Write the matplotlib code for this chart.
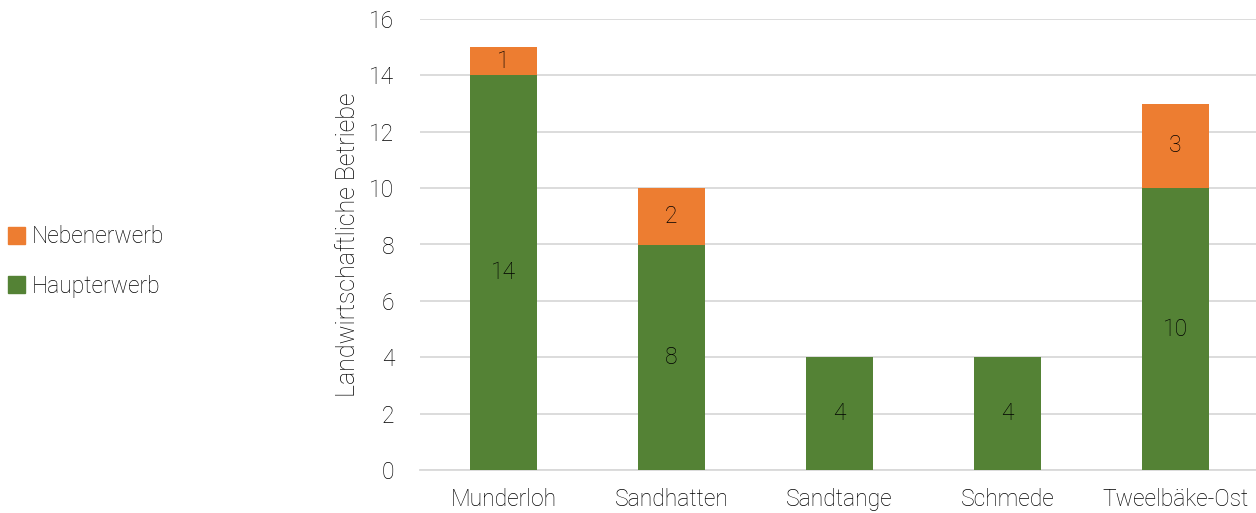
import matplotlib.pyplot as plt
from matplotlib.patches import Patch

orte = ["Munderloh", "Sandhatten", "Sandtange", "Schmede", "Tweelbäke-Ost"]
haupterwerb = [14, 8, 4, 4, 10]
nebenerwerb = [1, 2, 0, 0, 3]
y_ticks = [0, 2, 4, 6, 8, 10, 12, 14, 16]

GREEN = "#548235"
ORANGE = "#ED7D31"
TEXT = "#000000"
FS = 16.5

plt.rcParams['font.family'] = ['Roboto', 'DejaVu Sans']
plt.rcParams['font.weight'] = 'light'
plt.rcParams['axes.labelweight'] = 'light'

W, H = 1256, 513
fig = plt.figure(figsize=(W / 100, H / 100), dpi=100)
ax = fig.add_axes([419.5 / W, 43 / H, 840 / W, 451 / H])

x = list(range(len(orte)))
ax.bar(x, haupterwerb, width=0.4, color=GREEN, zorder=3)
ax.bar(x, nebenerwerb, width=0.4, bottom=haupterwerb, color=ORANGE, zorder=3)

for i in x:
    h = haupterwerb[i]
    n = nebenerwerb[i]
    if h:
        ax.text(i, h / 2, str(h), ha="center", va="center", fontsize=FS,
                color=TEXT, fontweight="light", zorder=4)
    if n:
        ax.text(i, h + n / 2, str(n), ha="center", va="center", fontsize=FS,
                color=TEXT, fontweight="light", zorder=4)

ax.set_xlim(-0.5, len(orte) - 0.5)
ax.set_ylim(0, 16)
ax.set_yticks(y_ticks)
ax.set_xticks(x)
ax.set_xticklabels(orte)
ax.tick_params(axis="both", length=0, labelsize=FS, labelcolor=TEXT)
ax.tick_params(axis="x", pad=13)
ax.tick_params(axis="y", pad=18)
ax.yaxis.grid(True, color="#D9D9D9", linewidth=1.3, zorder=0)
for s in ["top", "right", "left"]:
    ax.spines[s].set_visible(False)
ax.spines["bottom"].set_color("#D9D9D9")
ax.spines["bottom"].set_linewidth(1.3)
ax.set_ylabel("Landwirtschaftliche Betriebe", fontsize=18, color=TEXT,
              fontweight="light", labelpad=7)

handles = [Patch(color=ORANGE, label="Nebenerwerb"),
           Patch(color=GREEN, label="Haupterwerb")]
fig.legend(handles=handles, loc="center left", bbox_to_anchor=(-0.01, 0.49),
           frameon=False, handlelength=0.75, handleheight=0.75,
           handletextpad=0.3, labelspacing=1.15, labelcolor=TEXT,
           prop={'weight': 'light', 'size': FS})

fig.savefig("out.png", dpi=100)
